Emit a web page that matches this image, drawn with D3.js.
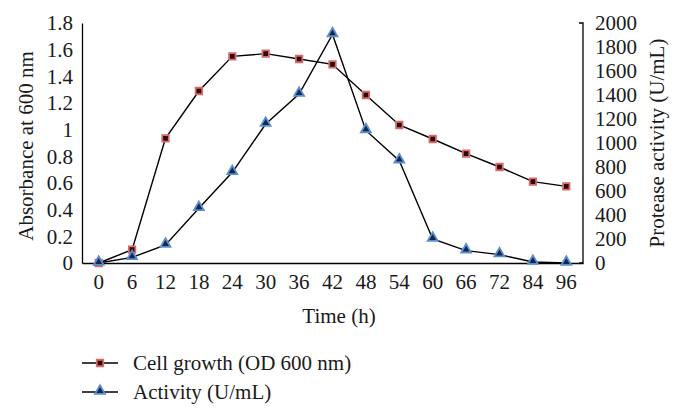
<!DOCTYPE html>
<html><head><meta charset="utf-8">
<script src="https://cdn.jsdelivr.net/npm/d3@7"></script>
<style>body{margin:0;background:#fff}svg{display:block}text{font-family:"Liberation Serif","Times New Roman",serif;fill:#1a1a1a}</style>
</head><body><svg id="c" width="682" height="417"></svg>
<script>
const times = ["0","6","12","18","24","30","36","42","48","54","60","66","72","84","96"];
const cellGrowth = [0,0.10,0.935,1.29,1.55,1.57,1.53,1.49,1.26,1.035,0.93,0.82,0.72,0.61,0.575];
const activity = [0,47,150,456,756,1158,1408,1905,1105,853,200,103,70,8,0];
const leftTicks = [0,0.2,0.4,0.6,0.8,1,1.2,1.4,1.6,1.8];
const rightTicks = [0,200,400,600,800,1000,1200,1400,1600,1800,2000];
const legendLabels = ["Cell growth (OD 600 nm)","Activity (U/mL)"];

const svg = d3.select("#c");
const L = 82, R = 583, T = 23, B = 263;
const x = d3.scaleBand().domain(times).range([L,R]);
const yL = d3.scaleLinear().domain([0,1.8]).range([B,T]);
const yR = d3.scaleLinear().domain([0,2000]).range([B,T]);
const cx = d => x(d) + x.bandwidth()/2;
const fs = 21;

// axes
const gx = svg.append("g").attr("transform",`translate(0,${B})`).call(d3.axisBottom(x).tickSize(0).tickPadding(10));
gx.select(".domain").attr("stroke","#000").attr("stroke-width",1.3);
gx.selectAll("text").attr("font-size",fs).attr("font-family",null).attr("dy","0.75em").attr("y",10);

const gl = svg.append("g").attr("transform",`translate(${L},0)`).call(d3.axisLeft(yL).tickValues(leftTicks).tickFormat(d=>String(d)).tickSize(0).tickPadding(9));
gl.select(".domain").attr("stroke","#000").attr("stroke-width",1.3);
gl.selectAll("text").attr("font-size",fs).attr("font-family",null);

const gr = svg.append("g").attr("transform",`translate(${R},0)`).call(d3.axisRight(yR).tickValues(rightTicks).tickFormat(d3.format("d")).tickSize(0).tickPadding(12));
gr.select(".domain").attr("stroke","#000").attr("stroke-width",1.3).attr("d",`M-4,${T}H0V${B}H-4`);
gr.selectAll("text").attr("font-size",fs).attr("font-family",null);

// titles
svg.append("text").attr("transform",`translate(33,${(T+B)/2+3}) rotate(-90)`).attr("text-anchor","middle").attr("font-size",fs).text("Absorbance at 600 nm");
svg.append("text").attr("transform",`translate(664,${(T+B)/2}) rotate(-90)`).attr("text-anchor","middle").attr("font-size",fs).text("Protease activity (U/mL)");
svg.append("text").attr("x",339).attr("y",323).attr("text-anchor","middle").attr("font-size",fs).text("Time (h)");

// lines
const line1 = d3.line().x((d,i)=>cx(times[i])).y(d=>yL(d));
const line2 = d3.line().x((d,i)=>cx(times[i])).y(d=>yR(d));
svg.append("path").attr("d",line1(cellGrowth)).attr("fill","none").attr("stroke","#000").attr("stroke-width",1.4);
svg.append("path").attr("d",line2(activity)).attr("fill","none").attr("stroke","#000").attr("stroke-width",1.4);

const sq = d3.symbol().type(d3.symbolSquare).size(42);
const tri = d3.symbol().type(d3.symbolTriangle).size(42);
function square(g,px,py){g.append("path").attr("d",sq()).attr("transform",`translate(${px},${py})`).attr("fill","#2a0808").attr("stroke","#d86a6a").attr("stroke-width",1.8);}
function triangle(g,px,py){g.append("path").attr("d",tri()).attr("transform",`translate(${px},${py})`).attr("fill","#14264a").attr("stroke","#5a8ed2").attr("stroke-width",1.8);}

cellGrowth.forEach((v,i)=>square(svg,cx(times[i]),yL(v)));
activity.forEach((v,i)=>triangle(svg,cx(times[i]),yR(v)-1));

// legend
const legY = [363,392];
legendLabels.forEach((lab,i)=>{
  svg.append("line").attr("x1",82).attr("x2",118).attr("y1",legY[i]).attr("y2",legY[i]).attr("stroke","#000").attr("stroke-width",1.4);
  if(i===0) square(svg,100,legY[i]); else triangle(svg,100,legY[i]-1);
  svg.append("text").attr("x",133).attr("y",legY[i]).attr("dy","0.35em").attr("font-size",fs).text(lab);
});
</script></body></html>
